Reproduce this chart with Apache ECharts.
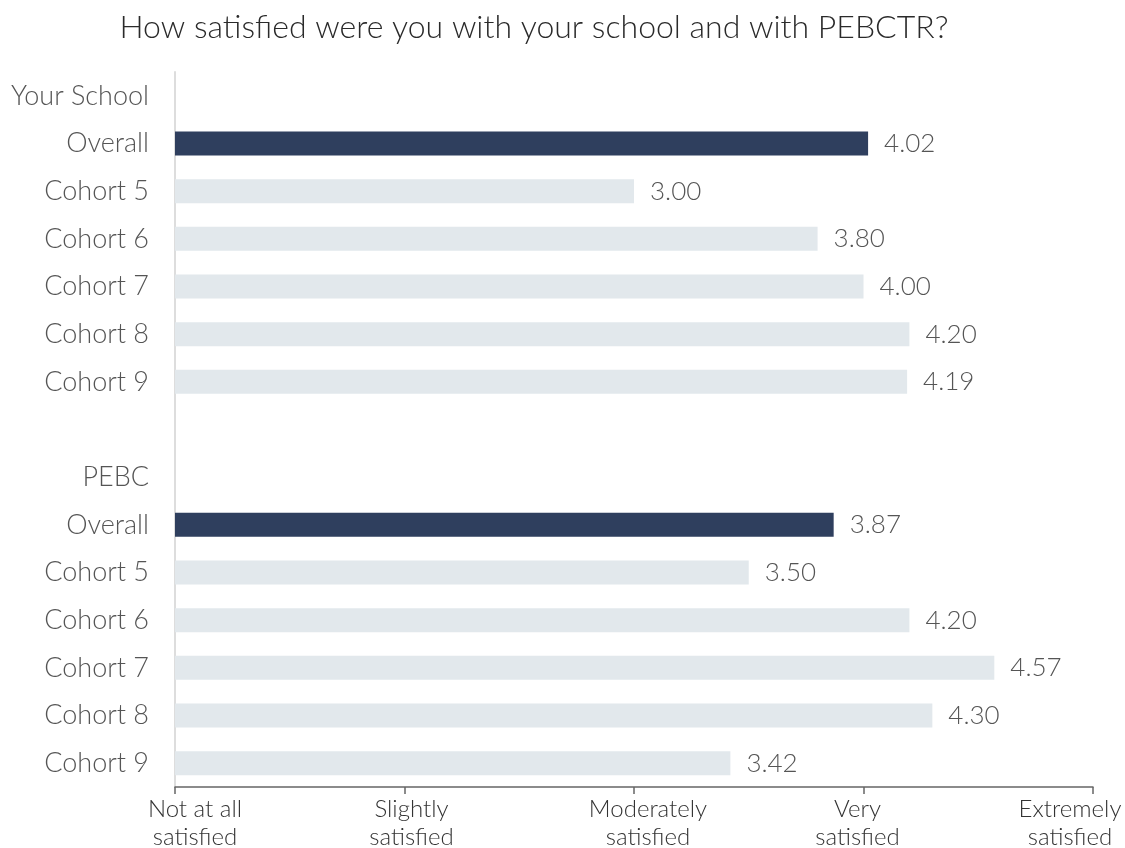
<!DOCTYPE html>
<html>
<head>
<meta charset="utf-8">
<script src="https://cdn.jsdelivr.net/npm/echarts@6/dist/echarts.min.js"></script>
<style>
  html, body { margin: 0; padding: 0; background: #fff; }
  #chart { width: 1125px; height: 848px; }
</style>
</head>
<body>
<div id="chart"></div>
<script>
// Row labels, top to bottom (a blank row separates the two groups)
const rowLabels = ['Your School', 'Overall', 'Cohort 5', 'Cohort 6', 'Cohort 7', 'Cohort 8', 'Cohort 9',
  '', 'PEBC', 'Overall', 'Cohort 5', 'Cohort 6', 'Cohort 7', 'Cohort 8', 'Cohort 9'];
// Mean satisfaction scores (1-5); null for header / spacer rows
const schoolScores = [null, 4.02, 3.00, 3.80, 4.00, 4.20, 4.19];
const pebcScores = [null, 3.87, 3.50, 4.20, 4.57, 4.30, 3.42];
// Rows whose bars are drawn in the dark colour
const overallRows = [1, 9];
// Scale labels for values 1..5
const scaleLabels = [['Not at all', 'satisfied'], ['Slightly', 'satisfied'], ['Moderately', 'satisfied'],
  ['Very', 'satisfied'], ['Extremely', 'satisfied']];

const values = schoolScores.concat([null], pebcScores);
const rowIds = rowLabels.map((_, i) => String(i));

const font = 'Lato';
const labelStyle = { fontFamily: font, fontWeight: 300, fontSize: 24, color: '#333', lineHeight: 28 };
// Horizontal nudge for each scale label (px, + = right)
const nudge = [20, 7, 14, -6, -23];
const rich = {};
nudge.forEach((d, i) => {
  rich['s' + i] = Object.assign({}, labelStyle, {
    padding: d >= 0 ? [0, 0, 0, 2 * d] : [0, -2 * d, 0, 0]
  });
});

const chart = echarts.init(document.getElementById('chart'), null, { renderer: 'canvas' });
chart.setOption({
  animation: false,
  title: {
    text: 'How satisfied were you with your school and with PEBCTR?',
    left: 529, top: 7, textAlign: 'center',
    textStyle: { fontFamily: font, fontWeight: 300, fontSize: 32, color: '#2a2a2a' }
  },
  grid: { left: 175, right: 32, top: 72, bottom: 61, containLabel: false, outerBoundsMode: 'none' },
  xAxis: {
    type: 'value', min: 1, max: 5, interval: 1,
    axisLine: { show: true, lineStyle: { color: '#666', width: 1.5 } },
    axisTick: { show: true, length: 7, lineStyle: { color: '#666', width: 1.5 } },
    splitLine: { show: false },
    axisLabel: Object.assign({}, labelStyle, {
      margin: 8,
      rich: rich,
      formatter: v => {
        const i = Math.round(v) - 1;
        const lines = scaleLabels[i];
        return lines ? lines.map(t => '{s' + i + '|' + t + '}').join('\n') : '';
      }
    })
  },
  yAxis: {
    type: 'category', inverse: true, data: rowIds,
    axisLine: { show: true, lineStyle: { color: '#ddd', width: 2 } },
    axisTick: { show: false },
    axisLabel: {
      fontFamily: font, fontWeight: 300, fontSize: 27, color: '#555', margin: 26,
      formatter: id => rowLabels[+id]
    }
  },
  series: [{
    type: 'bar',
    barWidth: 24,
    data: values.map((v, i) => ({
      value: v,
      itemStyle: { color: overallRows.includes(i) ? '#2f3f5e' : '#e2e8ec' }
    })),
    label: {
      show: true, position: 'right', distance: 16,
      fontFamily: font, fontWeight: 300, fontSize: 26, color: '#555',
      formatter: p => p.value == null ? '' : p.value.toFixed(2)
    }
  }]
});
</script>
</body>
</html>
